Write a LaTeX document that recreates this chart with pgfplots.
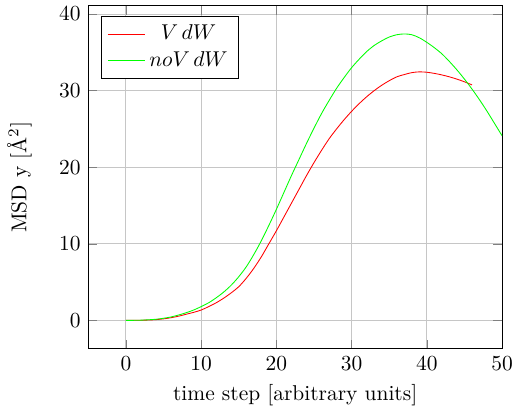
\documentclass[border=0pt]{standalone}
\usepackage{pgfplots}
\pgfplotsset{compat=1.18}
\begin{document}
\begin{tikzpicture}
\begin{axis}[
  scale only axis,
  width=193pt, height=160pt,
  xmin=-5, xmax=50,
  ymin=-3.7, ymax=41.1,
  xtick={0,10,20,30,40,50},
  ytick={0,10,20,30,40},
  grid=major,
  major grid style={gray!45},
  xlabel={time step [arbitrary units]},
  ylabel={MSD y [\AA$^2$]},
  ylabel style={yshift=6pt},
  legend cell align=center,
  legend style={at={(0.03,0.97)},anchor=north west},
]
\addplot[red, smooth] coordinates {
(0,0) (1,0.01) (2,0.02) (3,0.05) (4,0.1) (5,0.2) (6,0.35) (7,0.55) (8,0.8) (9,1.05)
(10,1.35) (11,1.8) (12,2.3) (13,2.9) (14,3.6) (15,4.4) (16,5.5) (17,6.8) (18,8.3) (19,10.0)
(20,11.7) (21,13.5) (22,15.3) (23,17.1) (24,18.9) (25,20.6) (26,22.2) (27,23.7) (28,25.0) (29,26.2)
(30,27.3) (31,28.3) (32,29.2) (33,30.0) (34,30.7) (35,31.3) (36,31.8) (37,32.1) (38,32.35) (39,32.45)
(40,32.4) (41,32.25) (42,32.05) (43,31.8) (44,31.5) (45,31.15) (46,30.75)
};
\addlegendentry{$V\,dW$}
\addplot[green, smooth] coordinates {
(0,0) (1,0.01) (2,0.03) (3,0.08) (4,0.15) (5,0.28) (6,0.45) (7,0.7) (8,1.0) (9,1.35)
(10,1.8) (11,2.3) (12,2.95) (13,3.7) (14,4.6) (15,5.7) (16,7.0) (17,8.6) (18,10.4) (19,12.4)
(20,14.5) (21,16.7) (22,18.9) (23,21.0) (24,23.1) (25,25.1) (26,27.0) (27,28.7) (28,30.3) (29,31.7)
(30,33.0) (31,34.1) (32,35.1) (33,35.9) (34,36.5) (35,37.0) (36,37.3) (37,37.4) (38,37.3) (39,36.9)
(40,36.3) (41,35.6) (42,34.8) (43,33.8) (44,32.7) (45,31.5) (46,30.2) (47,28.8) (48,27.3) (49,25.7)
(50,24.1)
};
\addlegendentry{$noV\,dW$}
\end{axis}
\end{tikzpicture}
\end{document}
